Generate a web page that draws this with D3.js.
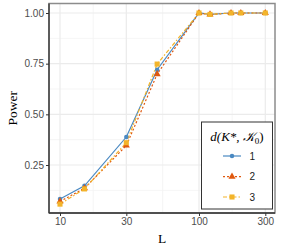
<!DOCTYPE html>
<html>
<head>
<meta charset="utf-8">
<script src="https://cdn.jsdelivr.net/npm/d3@7"></script>
<style>
  body { margin: 0; background: #fff; }
  svg { display: block; }
</style>
</head>
<body>
<div id="chart"></div>
<script>
// data
var L = [10, 15, 30, 50, 100, 120, 170, 200, 300];
var power1 = [0.082, 0.147, 0.388, 0.720, 1.000, 0.993, 1.000, 1.000, 1.000];
var power2 = [0.070, 0.135, 0.346, 0.698, 1.000, 0.993, 1.000, 1.000, 1.000];
var power3 = [0.057, 0.132, 0.360, 0.748, 1.000, 0.993, 1.000, 1.000, 1.000];
var seriesNames = ["1", "2", "3"];
var xTicks = [10, 30, 100, 300];
var yTicks = [0.25, 0.50, 0.75, 1.00];

var width = 283, height = 249;
var panel = {left: 49, right: 275, top: 3.5, bottom: 213};

var svg = d3.select("#chart").append("svg")
  .attr("width", width)
  .attr("height", height);

var x = d3.scaleLog().domain([10, 300]).range([60, 265.3]);
var y = d3.scaleLinear().domain([0.25, 1]).range([165, 13]);

var colors = ["#4a89c2", "#e0590f", "#f3b42a"];
var dashes = [null, "2,2", "4,2,1.5,2"];

// panel background
svg.append("rect")
  .attr("x", panel.left).attr("y", panel.top)
  .attr("width", panel.right - panel.left)
  .attr("height", panel.bottom - panel.top)
  .attr("fill", "#fff");

// grid
var xMinor = [];
for (var i = 0; i < xTicks.length - 1; i++) xMinor.push(Math.sqrt(xTicks[i] * xTicks[i + 1]));
var yMinor = [0.125, 0.375, 0.625, 0.875];

svg.selectAll(".gxminor").data(xMinor).enter().append("line")
  .attr("x1", function(d) { return x(d); }).attr("x2", function(d) { return x(d); })
  .attr("y1", panel.top).attr("y2", panel.bottom)
  .attr("stroke", "#f2f2f2").attr("stroke-width", 0.8);
svg.selectAll(".gyminor").data(yMinor).enter().append("line")
  .attr("x1", panel.left).attr("x2", panel.right)
  .attr("y1", function(d) { return y(d); }).attr("y2", function(d) { return y(d); })
  .attr("stroke", "#f2f2f2").attr("stroke-width", 0.8);
svg.selectAll(".gx").data(xTicks).enter().append("line")
  .attr("x1", function(d) { return x(d); }).attr("x2", function(d) { return x(d); })
  .attr("y1", panel.top).attr("y2", panel.bottom)
  .attr("stroke", "#ebebeb").attr("stroke-width", 1.2);
svg.selectAll(".gy").data(yTicks).enter().append("line")
  .attr("x1", panel.left).attr("x2", panel.right)
  .attr("y1", function(d) { return y(d); }).attr("y2", function(d) { return y(d); })
  .attr("stroke", "#ebebeb").attr("stroke-width", 1.2);

// series
var allSeries = [power1, power2, power3];
var line = d3.line()
  .x(function(d, i) { return x(L[i]); })
  .y(function(d) { return y(d); });

allSeries.forEach(function(s, k) {
  svg.append("path")
    .datum(s)
    .attr("d", line)
    .attr("fill", "none")
    .attr("stroke", colors[k])
    .attr("stroke-width", 1.2)
    .attr("stroke-dasharray", dashes[k]);
});

var shapes = [d3.symbolCircle, d3.symbolTriangle, d3.symbolSquare];
var sizes = [16, 22, 26];
allSeries.forEach(function(s, k) {
  svg.selectAll(".pt" + k).data(s).enter().append("path")
    .attr("transform", function(d, i) { return "translate(" + x(L[i]) + "," + y(d) + ")"; })
    .attr("d", d3.symbol().type(shapes[k]).size(sizes[k]))
    .attr("fill", colors[k]);
});

// panel border and axis lines
svg.append("rect")
  .attr("x", panel.left).attr("y", panel.top)
  .attr("width", panel.right - panel.left)
  .attr("height", panel.bottom - panel.top)
  .attr("fill", "none")
  .attr("stroke", "#8c8c8c")
  .attr("stroke-width", 1.5);
svg.append("line")
  .attr("x1", panel.left).attr("x2", panel.left)
  .attr("y1", panel.top).attr("y2", panel.bottom)
  .attr("stroke", "#333").attr("stroke-width", 1.3);
svg.append("line")
  .attr("x1", panel.left).attr("x2", panel.right)
  .attr("y1", panel.bottom).attr("y2", panel.bottom)
  .attr("stroke", "#333").attr("stroke-width", 1.3);

// axes
var xAxis = d3.axisBottom(x).tickValues(xTicks).tickFormat(d3.format("d")).tickSize(3).tickPadding(2);
var gx = svg.append("g").attr("transform", "translate(0," + panel.bottom + ")").call(xAxis);
gx.select(".domain").remove();
gx.selectAll(".tick line").attr("stroke", "#333").attr("stroke-width", 1);
gx.selectAll(".tick text")
  .attr("fill", "#4d4d4d")
  .style("font-family", "'Liberation Sans', Arial, sans-serif")
  .style("font-size", "10px");

var yAxis = d3.axisLeft(y).tickValues(yTicks).tickFormat(d3.format(".2f")).tickSize(3).tickPadding(2);
var gy = svg.append("g").attr("transform", "translate(" + panel.left + ",0)").call(yAxis);
gy.select(".domain").remove();
gy.selectAll(".tick line").attr("stroke", "#333").attr("stroke-width", 1);
gy.selectAll(".tick text")
  .attr("fill", "#4d4d4d")
  .style("font-family", "'Liberation Sans', Arial, sans-serif")
  .style("font-size", "10px");

// axis titles
svg.append("text")
  .attr("x", (panel.left + panel.right) / 2)
  .attr("y", 242.5)
  .attr("text-anchor", "middle")
  .style("font-family", "'Liberation Serif', 'Times New Roman', serif")
  .style("font-size", "13.5px")
  .text("L");
svg.append("text")
  .attr("transform", "translate(17," + ((panel.top + panel.bottom) / 2) + ") rotate(-90)")
  .attr("text-anchor", "middle")
  .style("font-family", "'Liberation Serif', 'Times New Roman', serif")
  .style("font-size", "13.5px")
  .text("Power");

// legend
var lg = svg.append("g").attr("transform", "translate(201.5,122)");
lg.append("rect")
  .attr("width", 71).attr("height", 87)
  .attr("fill", "#fff")
  .attr("stroke", "#333")
  .attr("stroke-width", 1);
var title = lg.append("text")
  .attr("x", 35.5).attr("y", 18.5)
  .attr("text-anchor", "middle")
  .style("font-family", "'Liberation Serif', 'Times New Roman', serif")
  .style("font-style", "italic")
  .style("font-size", "13px");
title.append("tspan").text("d(K*, ");
title.append("tspan").text("\uD835\uDCA6");
title.append("tspan").attr("dy", 3).style("font-size", "9px").style("font-style", "normal").text("0");
title.append("tspan").attr("dy", -3).style("font-style", "normal").text(")");

var rowY = [34, 54.7, 75];
seriesNames.forEach(function(n, k) {
  var r = lg.append("g").attr("transform", "translate(0," + rowY[k] + ")");
  r.append("line")
    .attr("x1", 21.5).attr("x2", 39.5)
    .attr("stroke", colors[k]).attr("stroke-width", 1.2)
    .attr("stroke-dasharray", dashes[k]);
  r.append("path")
    .attr("transform", "translate(30.5,0)")
    .attr("d", d3.symbol().type(shapes[k]).size(sizes[k]))
    .attr("fill", colors[k]);
  r.append("text")
    .attr("x", 48).attr("y", 3.5)
    .style("font-family", "'Liberation Sans', Arial, sans-serif")
    .style("font-size", "10px")
    .attr("fill", "#1a1a1a")
    .text(n);
});
</script>
</body>
</html>
